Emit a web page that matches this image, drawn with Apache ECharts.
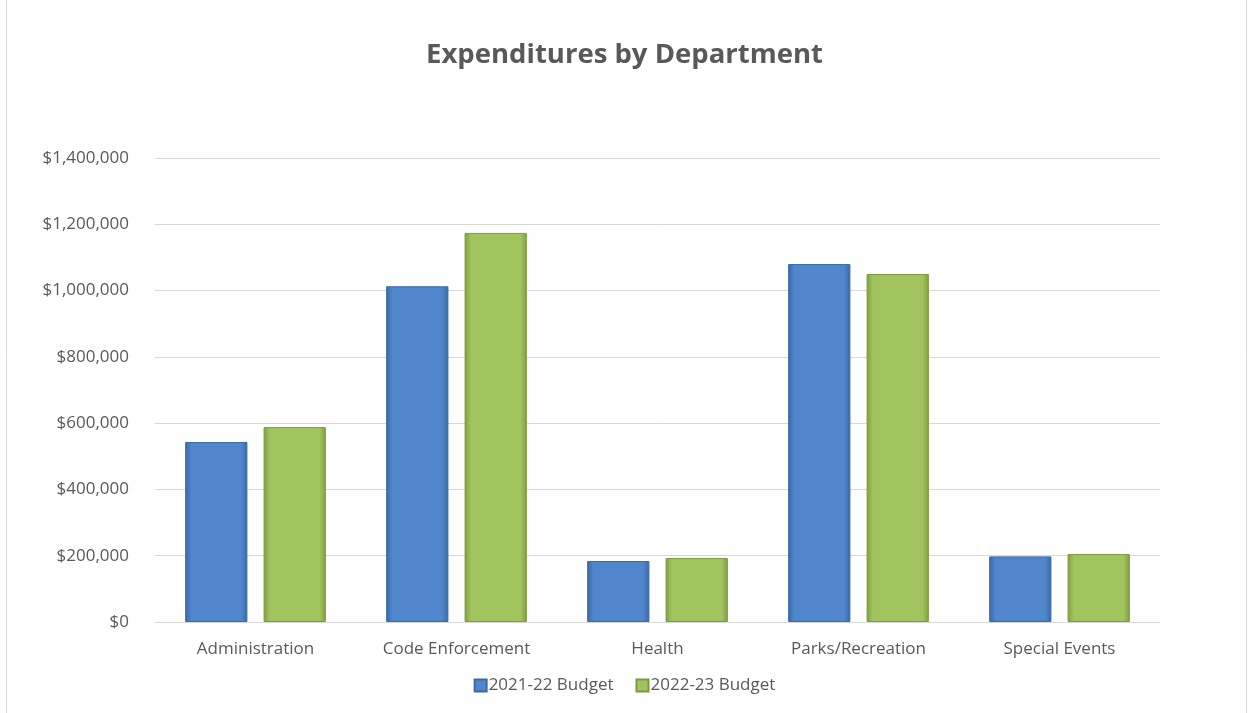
<!DOCTYPE html>
<html>
<head>
<meta charset="utf-8">
<script src="https://cdn.jsdelivr.net/npm/echarts@6/dist/echarts.min.js"></script>
<style>
  html, body { margin: 0; padding: 0; background: #fff; }
  #chart { width: 1249px; height: 713px; }
</style>
</head>
<body>
<div id="chart"></div>
<script>
// Department expenditures, two budget years
const categories = ['Administration', 'Code Enforcement', 'Health', 'Parks/Recreation', 'Special Events'];
const budget2122 = [543000, 1013000, 184000, 1080000, 198000];
const budget2223 = [588000, 1174000, 193000, 1050000, 205000];
const seriesNames = ['2021-22 Budget', '2022-23 Budget'];

// Bevel-like shading: darker edges, lighter centre
function bevel(edge, mid) {
  return {
    type: 'linear', x: 0, y: 0, x2: 1, y2: 0,
    colorStops: [
      { offset: 0, color: edge },
      { offset: 0.1, color: mid },
      { offset: 0.9, color: mid },
      { offset: 1, color: edge }
    ]
  };
}

const chart = echarts.init(document.getElementById('chart'), null, { renderer: 'canvas' });
const fontFamily = 'Open Sans, "Noto Sans", sans-serif';

chart.setOption({
  animation: false,
  backgroundColor: '#fff',
  title: {
    text: 'Expenditures by Department',
    left: 'center',
    top: 36,
    textStyle: { fontFamily, fontSize: 27.5, fontWeight: 'bold', color: '#595959' }
  },
  legend: {
    bottom: 14,
    left: 'center',
    itemWidth: 12,
    itemHeight: 12,
    itemGap: 22,
    icon: 'rect',
    textStyle: { fontFamily, fontSize: 17, color: '#595959', padding: [0, 0, 0, -3] },
    data: seriesNames
  },
  grid: { left: 155, right: 89, top: 158, bottom: 91 },
  xAxis: {
    type: 'category',
    data: categories,
    axisLine: { lineStyle: { color: '#d9d9d9', width: 1 } },
    axisTick: { show: false },
    axisLabel: { fontFamily, fontSize: 17, color: '#595959', margin: 19 }
  },
  yAxis: {
    type: 'value',
    min: 0,
    max: 1400000,
    interval: 200000,
    axisLine: { show: false },
    axisTick: { show: false },
    splitLine: { lineStyle: { color: '#d9d9d9', width: 1 } },
    axisLabel: {
      fontFamily, fontSize: 17, color: '#595959', margin: 26,
      formatter: v => '$' + v.toLocaleString('en-US')
    }
  },
  series: [
    {
      name: seriesNames[0],
      type: 'bar',
      data: budget2122,
      barGap: '26%',
      barCategoryGap: '30%',
      itemStyle: { color: bevel('#3a68a6', '#4f86cc'), borderColor: '#3c6aa8', borderWidth: 1 }
    },
    {
      name: seriesNames[1],
      type: 'bar',
      data: budget2223,
      itemStyle: { color: bevel('#7f9e3e', '#a1c45e'), borderColor: '#7d9a3e', borderWidth: 1 }
    }
  ],
  graphic: [
    {
      type: 'rect',
      shape: { x: 6.5, y: -2, width: 1240, height: 720 },
      style: { fill: 'none', stroke: '#d9d9d9', lineWidth: 1 },
      silent: true
    }
  ]
});
</script>
</body>
</html>
